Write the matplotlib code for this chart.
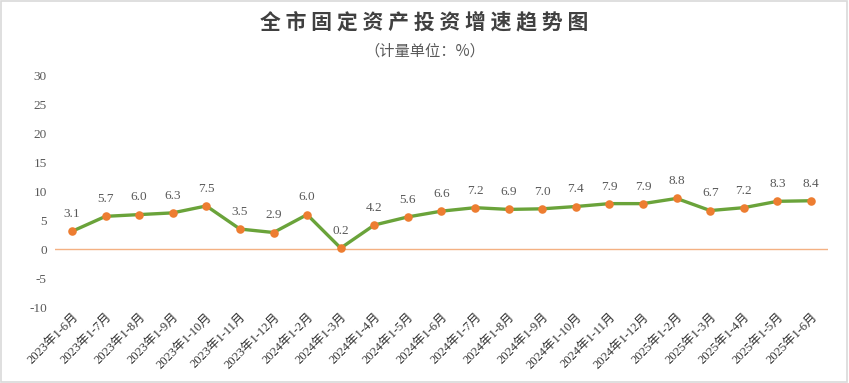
import matplotlib
matplotlib.use("Agg")
import matplotlib.pyplot as plt
from matplotlib.patches import Rectangle

categories = ["2023年1-6月", "2023年1-7月", "2023年1-8月", "2023年1-9月", "2023年1-10月",
              "2023年1-11月", "2023年1-12月", "2024年1-2月", "2024年1-3月", "2024年1-4月",
              "2024年1-5月", "2024年1-6月", "2024年1-7月", "2024年1-8月", "2024年1-9月",
              "2024年1-10月", "2024年1-11月", "2024年1-12月", "2025年1-2月", "2025年1-3月",
              "2025年1-4月", "2025年1-5月", "2025年1-6月"]
values = [3.1, 5.7, 6.0, 6.3, 7.5, 3.5, 2.9, 6.0, 0.2, 4.2, 5.6, 6.6, 7.2, 6.9, 7.0,
          7.4, 7.9, 7.9, 8.8, 6.7, 7.2, 8.3, 8.4]
yticks = [-10, -5, 0, 5, 10, 15, 20, 25, 30]

serif = ["Liberation Serif", "Noto Sans CJK SC", "DejaVu Sans"]
cjk = ["Liberation Serif", "Noto Sans CJK SC"]

fig = plt.figure(figsize=(8.49, 3.83), dpi=100)
fig.patches.append(Rectangle((0.001, 0.002), 0.997, 0.995, transform=fig.transFigure,
                             fill=False, edgecolor="#d9d9d9", linewidth=1.2))
ax = fig.add_axes([0.065, 0.1984, 0.91, 0.6032])
n = len(values)
x = list(range(n))
ax.axhline(0, color="#F4B183", linewidth=1.0, zorder=1)
ax.plot(x, values, color="#6AA33A", linewidth=2.4, zorder=2)
ax.scatter(x, values, s=38, color="#ED7D31", zorder=3, linewidths=0)
for xi, v in zip(x, values):
    ax.annotate(f"{v:.1f}", (xi, v), xytext=(0, 8), textcoords="offset points",
                ha="center", va="bottom", fontsize=9.5, color="#595959", family=serif)
ax.set_xlim(-0.5, n - 0.5)
ax.set_ylim(-10, 30)
ax.set_yticks(yticks)
ax.set_yticklabels([str(t) for t in yticks], family=serif, fontsize=9.5, color="#595959")
ax.set_xticks(x)
ax.set_xticklabels(categories, rotation=45, ha="right", rotation_mode="anchor",
                   family=cjk, fontsize=9, color="#333333")
ax.tick_params(axis="both", length=0)
ax.tick_params(axis="y", pad=6)
ax.tick_params(axis="x", pad=3)
for s in ax.spines.values():
    s.set_visible(False)

fig.text(0.5, 0.942, "全 市 固 定 资 产 投 资 增 速 趋 势 图", ha="center", va="center",
         fontsize=15, fontweight="bold", color="#404040", family=["Noto Sans CJK SC"])
fig.text(0.5, 0.866, "（计量单位：%）", ha="center", va="center",
         fontsize=11, color="#595959", family=["Noto Sans CJK SC"])

fig.savefig("out.png", dpi=100)
